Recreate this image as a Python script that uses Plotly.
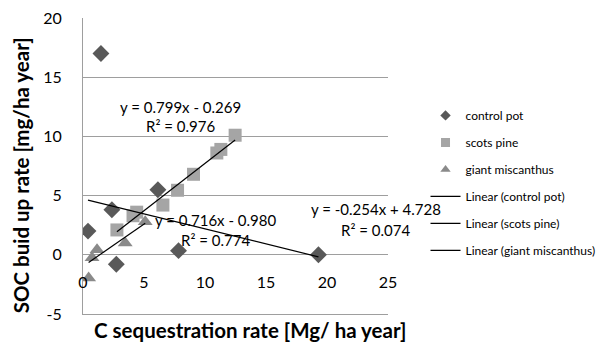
import plotly.graph_objects as go
import numpy as np

# ---- data ----
control_x = [1.47, 0.41, 2.37, 2.73, 6.14, 7.83, 19.3]
control_y = [17.0, 2.0, 3.8, -0.8, 5.5, 0.35, 0.0]

pine_x = [2.78, 4.1, 4.4, 6.55, 7.75, 9.06, 10.97, 11.3, 12.47]
pine_y = [2.1, 3.3, 3.6, 4.2, 5.45, 6.8, 8.6, 8.9, 10.1]

misc_x = [0.46, 0.74, 1.15, 3.46, 5.1]
misc_y = [-1.97, -0.25, 0.42, 0.99, 2.8]

series_names = ["control pot", "scots pine", "giant miscanthus"]
slopes = [-0.254, 0.799, 0.716]
intercepts = [4.728, -0.269, -0.980]
r2_values = [0.074, 0.976, 0.774]

x_ticks = [0, 5, 10, 15, 20, 25]
y_ticks = [-5, 0, 5, 10, 15, 20]

# ---- styles ----
FONT = "Lato"
colors = ["#595959", "#A5A5A5", "#8A8A8A"]
symbols = ["diamond", "square", "triangle-up"]
sizes = [13, 13, 13]
legend_sizes = [8, 9, 9]
GRID = "#9E9E9E"

fig = go.Figure()

xs = [control_x, pine_x, misc_x]
ys = [control_y, pine_y, misc_y]

for i in range(3):
    fig.add_trace(go.Scatter(
        x=xs[i], y=ys[i], mode="markers", showlegend=False,
        marker=dict(symbol=symbols[i], color=colors[i], size=sizes[i], line=dict(width=0)),
        hoverinfo="skip"))

# trendlines from stated equations across each series' x range
for i in range(3):
    x0, x1 = min(xs[i]), max(xs[i])
    lx = np.array([x0, x1])
    fig.add_trace(go.Scatter(
        x=lx, y=slopes[i] * lx + intercepts[i], mode="lines", showlegend=False,
        line=dict(color="black", width=1.2), hoverinfo="skip"))

# legend entries
for i in range(3):
    fig.add_trace(go.Scatter(
        x=[None], y=[None], mode="markers", name=series_names[i],
        legendgroup=f"m{i}",
        marker=dict(symbol=symbols[i], color=colors[i], size=legend_sizes[i], line=dict(width=0))))
for i in range(3):
    fig.add_trace(go.Scatter(
        x=[None], y=[None], mode="lines", name=f"Linear ({series_names[i]})",
        legendgroup=f"l{i}",
        line=dict(color="black", width=1.2)))

# helper trace so the tick-label axis (crossing at y=0) is drawn
fig.add_trace(go.Scatter(x=[None], y=[None], xaxis="x2", showlegend=False, hoverinfo="skip"))

# equation labels
def fmt_eq(m, b):
    sign = "-" if b < 0 else "+"
    return f"y = {m:.3f}x {sign} {abs(b):.3f}"

eq_pos = [(24.0, 3.87, 2.11), (8.03, 12.47, 10.84), (10.84, 2.9, 1.21)]
for i in range(3):
    ex, ey1, ey2 = eq_pos[i]
    fig.add_annotation(x=ex, y=ey1, xref="x", yref="y", text=fmt_eq(slopes[i], intercepts[i]),
                       showarrow=False, font=dict(family=FONT, size=15, color="black"),
                       xanchor="center", yanchor="middle")
    fig.add_annotation(x=ex, y=ey2, xref="x", yref="y", text=f"R² = {r2_values[i]:.3f}",
                       showarrow=False, font=dict(family=FONT, size=15, color="black"),
                       xanchor="center", yanchor="middle")

# axis titles
fig.add_annotation(x=-0.205, y=0.47, xref="paper", yref="paper", text="<b>SOC buid up rate [mg/ha year]</b>",
                   showarrow=False, textangle=-90, font=dict(family=FONT, size=20.5, color="black"),
                   xanchor="center", yanchor="middle")
fig.add_annotation(x=0.548, y=-0.054, xref="paper", yref="paper",
                   text="<b>C sequestration rate [Mg/ ha year]</b>",
                   showarrow=False, font=dict(family=FONT, size=20.5, color="black"),
                   xanchor="center", yanchor="middle")

fig.update_layout(
    width=602, height=343,
    margin=dict(l=83, r=214, t=18, b=29, pad=0, autoexpand=False),
    paper_bgcolor="white", plot_bgcolor="white",
    font=dict(family=FONT, color="black"),
    showlegend=True,
    legend=dict(x=1.123, y=0.72, xanchor="left", yanchor="top",
                font=dict(family=FONT, size=12, color="black"),
                tracegroupgap=8, bgcolor="rgba(0,0,0,0)", borderwidth=0),
    xaxis=dict(range=[0, 25], showticklabels=False,
               showgrid=False, zeroline=False, showline=True, linecolor=GRID, linewidth=1,
               ticks=""),
    xaxis2=dict(range=[0, 25], tickvals=x_ticks, ticktext=[str(v) for v in x_ticks],
                overlaying="x", anchor="free", position=0.145, side="bottom",
                showgrid=False, zeroline=False, showline=False, ticks="",
                tickfont=dict(family=FONT, size=16, color="black")),
    yaxis=dict(range=[-5, 20], tickvals=y_ticks, ticktext=[str(v) for v in y_ticks],
               showgrid=True, gridcolor=GRID, gridwidth=1,
               zeroline=True, zerolinecolor=GRID, zerolinewidth=1,
               showline=True, linecolor=GRID, linewidth=1, mirror=False,
               ticks="", ticklabelstandoff=17,
               tickfont=dict(family=FONT, size=16, color="black")),
)

fig.write_html("out.html")
